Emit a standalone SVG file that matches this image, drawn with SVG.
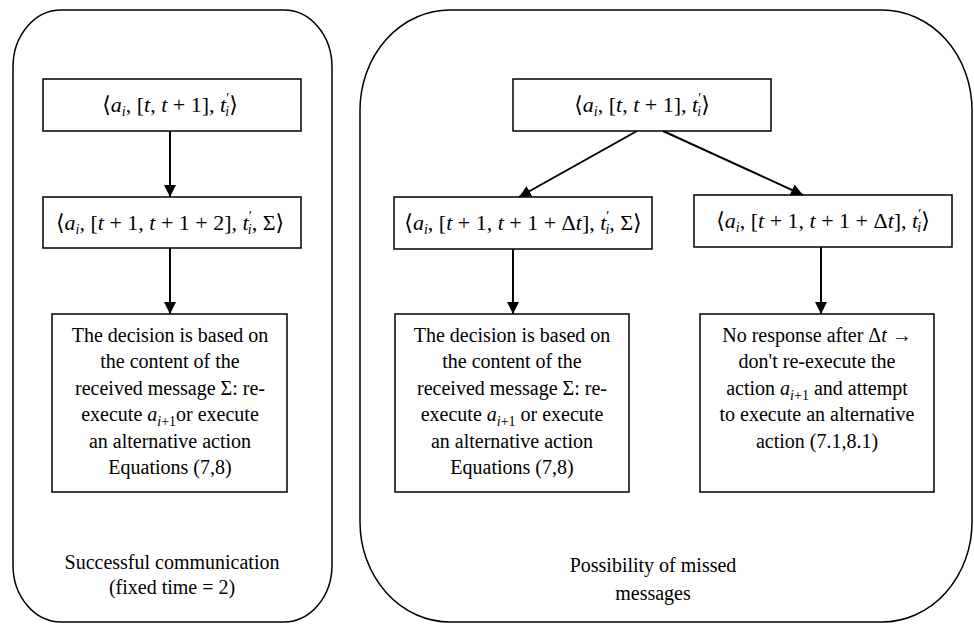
<svg xmlns="http://www.w3.org/2000/svg" width="974" height="624" viewBox="0 0 974 624">
<style>
.panel{fill:none;stroke:#000;stroke-width:1.5}
.box{fill:#fff;stroke:#000;stroke-width:1.5}
.math{font-family:"Liberation Serif","DejaVu Serif",serif;font-size:22px;fill:#000}
.txt{font-family:"Liberation Serif","Times New Roman",serif;font-size:20px;fill:#000;text-anchor:middle}
.it{font-style:italic}
.sub{font-size:14px}
.conn line{stroke:#000;stroke-width:2;marker-end:url(#ah)}
</style>
<defs>
<marker id="ah" markerUnits="userSpaceOnUse" markerWidth="12" markerHeight="14" viewBox="0 0 12 14" refX="12" refY="7" orient="auto">
<path d="M0,1 L12,7 L0,13 Z" fill="#000"/>
</marker>
</defs>
<g id="panel-left"><rect class="panel" x="13" y="10" width="319" height="612" rx="48" ry="57"/>
<text class="txt" x="172" y="569">Successful communication</text>
<text class="txt" x="172" y="594">(fixed time = 2)</text></g>
<g id="panel-right"><rect class="panel" x="360" y="10" width="612" height="612" rx="90" ry="100"/>
<text class="txt" x="653" y="572">Possibility of missed</text>
<text class="txt" x="653" y="600">messages</text></g>

<g id="L1"><rect class="box" x="43" y="79" width="258" height="52"/>
<text class="math" x="170" y="112" text-anchor="middle">⟨<tspan class="it">a</tspan><tspan class="it sub" dy="4">i</tspan><tspan dy="-4">, [</tspan><tspan class="it">t</tspan>, <tspan class="it">t</tspan> + 1], <tspan class="it">t</tspan><tspan class="sub" dy="-9">′</tspan><tspan class="it sub" dx="-4" dy="13">i</tspan><tspan dy="-4">⟩</tspan></text></g>

<g id="L2"><rect class="box" x="43" y="197" width="258" height="51"/>
<text class="math" x="170" y="230" text-anchor="middle">⟨<tspan class="it">a</tspan><tspan class="it sub" dy="4">i</tspan><tspan dy="-4">, [</tspan><tspan class="it">t</tspan> + 1, <tspan class="it">t</tspan> + 1 + 2], <tspan class="it">t</tspan><tspan class="sub" dy="-9">′</tspan><tspan class="it sub" dx="-4" dy="13">i</tspan><tspan dy="-4">, Σ⟩</tspan></text></g>

<g id="L3"><rect class="box" x="52" y="314" width="235" height="178"/>
<text class="txt" x="170" y="342">The decision is based on</text>
<text class="txt" x="170" y="368">the content of the</text>
<text class="txt" x="170" y="395">received message Σ: re-</text>
<text class="txt" x="170" y="421">execute <tspan class="it">a</tspan><tspan class="sub" dy="5"><tspan class="it">i</tspan>+1</tspan><tspan dy="-5">or execute</tspan></text>
<text class="txt" x="170" y="448">an alternative action</text>
<text class="txt" x="170" y="474">Equations (7,8)</text></g>

<g id="R1"><rect class="box" x="513" y="79" width="258" height="52"/>
<text class="math" x="642" y="112" text-anchor="middle">⟨<tspan class="it">a</tspan><tspan class="it sub" dy="4">i</tspan><tspan dy="-4">, [</tspan><tspan class="it">t</tspan>, <tspan class="it">t</tspan> + 1], <tspan class="it">t</tspan><tspan class="sub" dy="-9">′</tspan><tspan class="it sub" dx="-4" dy="13">i</tspan><tspan dy="-4">⟩</tspan></text></g>

<g id="R2a"><rect class="box" x="394" y="197" width="258" height="52"/>
<text class="math" x="523" y="230" text-anchor="middle">⟨<tspan class="it">a</tspan><tspan class="it sub" dy="4">i</tspan><tspan dy="-4">, [</tspan><tspan class="it">t</tspan> + 1, <tspan class="it">t</tspan> + 1 + Δ<tspan class="it">t</tspan>], <tspan class="it">t</tspan><tspan class="sub" dy="-9">′</tspan><tspan class="it sub" dx="-4" dy="13">i</tspan><tspan dy="-4">, Σ⟩</tspan></text></g>

<g id="R2b"><rect class="box" x="694" y="195" width="258" height="52"/>
<text class="math" x="823" y="228" text-anchor="middle">⟨<tspan class="it">a</tspan><tspan class="it sub" dy="4">i</tspan><tspan dy="-4">, [</tspan><tspan class="it">t</tspan> + 1, <tspan class="it">t</tspan> + 1 + Δ<tspan class="it">t</tspan>], <tspan class="it">t</tspan><tspan class="sub" dy="-9">′</tspan><tspan class="it sub" dx="-4" dy="13">i</tspan><tspan dy="-4">⟩</tspan></text></g>

<g id="R3a"><rect class="box" x="395" y="314" width="234" height="178"/>
<text class="txt" x="512" y="342">The decision is based on</text>
<text class="txt" x="512" y="368">the content of the</text>
<text class="txt" x="512" y="395">received message Σ: re-</text>
<text class="txt" x="512" y="421">execute <tspan class="it">a</tspan><tspan class="sub" dy="5"><tspan class="it">i</tspan>+1</tspan><tspan dy="-5"> or execute</tspan></text>
<text class="txt" x="512" y="448">an alternative action</text>
<text class="txt" x="512" y="474">Equations (7,8)</text></g>

<g id="R3b"><rect class="box" x="700" y="314" width="234" height="178"/>
<text class="txt" x="817" y="342">No response after Δ<tspan class="it">t</tspan> →</text>
<text class="txt" x="817" y="368">don't re-execute the</text>
<text class="txt" x="817" y="395">action <tspan class="it">a</tspan><tspan class="sub" dy="5"><tspan class="it">i</tspan>+1</tspan><tspan dy="-5"> and attempt</tspan></text>
<text class="txt" x="817" y="421">to execute an alternative</text>
<text class="txt" x="817" y="448">action (7.1,8.1)</text></g>

<g id="connectors" class="conn">
<line x1="170" y1="131" x2="170" y2="197"/>
<line x1="170" y1="248" x2="170" y2="314"/>
<line x1="637" y1="131" x2="519" y2="197"/>
<line x1="663" y1="131" x2="803" y2="195"/>
<line x1="513" y1="249" x2="513" y2="314"/>
<line x1="821" y1="247" x2="821" y2="314"/>
</g>
</svg>
